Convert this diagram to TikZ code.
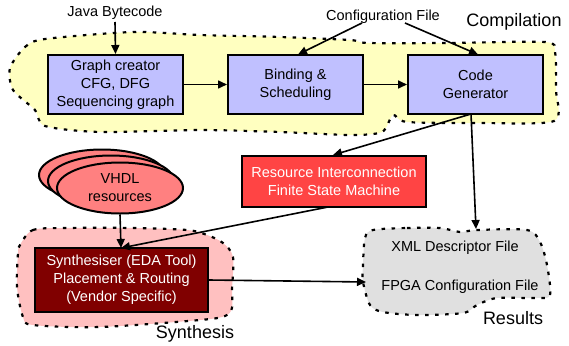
\documentclass[tikz,border=0pt]{standalone}
\usepackage{fontspec}
\setmainfont{Liberation Sans}
\usetikzlibrary{shapes.geometric,arrows.meta}
\definecolor{boxblue}{HTML}{C0C0FF}
\definecolor{yellowfill}{HTML}{FFFFC0}
\definecolor{pinkfill}{HTML}{FFC0C0}
\definecolor{grayfill}{HTML}{E0E0E0}
\definecolor{rired}{HTML}{FF4444}
\definecolor{darkred}{HTML}{800000}
\definecolor{salmon}{HTML}{FF8080}
\begin{document}
\begin{tikzpicture}[x=1pt,y=-1pt,
  every node/.style={font=\fontsize{14.5}{18}\selectfont},
  box/.style={draw=black, line width=2pt, fill=boxblue, align=center,
    minimum width=135pt, minimum height=59pt, inner sep=0pt},
  redbox/.style={draw=black, line width=2pt, align=center, text=white, inner sep=0pt},
  vhdl/.style={ellipse, draw=black, line width=2pt, fill=salmon,
    minimum width=126pt, minimum height=51pt, inner sep=0pt},
  arr/.style={-{Triangle[length=9pt,width=8pt]}, line width=1.6pt},
  region/.style={line width=2.2pt, dash pattern=on 3.5pt off 6.5pt},
  biglabel/.style={font=\fontsize{18}{21}\selectfont}
]
\useasboundingbox (0,0) rectangle (569,345);

% regions
\draw[region, fill=yellowfill] plot[smooth cycle, tension=0.45] coordinates {
  (10,68) (25,47) (45,39) (133,32) (200,35) (280,37) (350,40) (368,43)
  (450,43) (545,42) (555,52) (556,90) (554,121) (480,123) (407,122)
  (393,115) (382,132) (350,135) (280,132) (200,130) (100,132) (45,126)
  (35,110) (13,90)};
\draw[region, fill=pinkfill] plot[smooth cycle, tension=0.5] coordinates {
  (20,245) (33,230) (67,228) (133,228) (187,230) (207,235) (223,243)
  (233,257) (232,290) (232,308) (225,316) (200,320) (100,327) (33,325)
  (23,317) (17,287) (18,253)};
\draw[region, fill=grayfill] plot[smooth cycle, tension=0.5] coordinates {
  (373,230) (407,228) (440,228) (460,232) (477,230) (527,230) (540,242)
  (547,265) (550,295) (537,298) (497,298) (477,305) (463,313) (417,315)
  (383,312) (370,305) (363,282) (363,265) (365,238)};

% labels
\node[biglabel] (comp) at (514,22) {Compilation};
\node[biglabel] (synl) at (195,334) {Synthesis};
\node[biglabel] (resl) at (513,318) {Results};

% top texts
\node (java) at (115,13) {Java Bytecode};
\node (conf) at (383,17) {Configuration File};

% boxes
\node[box] (gc) at (115.5,84.5) {Graph creator\\CFG, DFG\\Sequencing graph};
\node[box] (bs) at (295.5,84.5) {Binding \&\\Scheduling};
\node[box] (cg) at (475.5,84.5) {Code\\Generator};

\node[redbox, fill=rired, minimum width=184pt, minimum height=51pt] (ri) at (334,181.5)
  {Resource Interconnection\\Finite State Machine};

\node[vhdl] (v3) at (102,175) {};
\node[vhdl] (v2) at (111,181) {};
\node[vhdl, align=center] (v1) at (120,188) {VHDL\\resources};

\node[redbox, fill=darkred, minimum width=173pt, minimum height=64pt] (syn) at (121.5,280)
  {Synthesiser (EDA Tool)\\Placement \& Routing\\(Vendor Specific)};

\node (xml) at (455,248) {XML Descriptor File};
\node (fpga) at (460,287) {FPGA Configuration File};

% coordinates for connector ends
\coordinate (javab) at (115,22);
\coordinate (confl) at (362,23);
\coordinate (confr) at (405,23);
\coordinate (cgout) at (471,114);
\coordinate (ritop) at (333,155);
\coordinate (ribot) at (328,207);
\coordinate (syntop) at (121,248);
\coordinate (rescloudtop) at (476,229);
\coordinate (rescloudleft) at (366,282);

% connectors
\draw[arr] (javab) -- (gc.north);
\draw[arr] (confl) -- (298,54.5);
\draw[arr] (confr) -- (478,54.5);
\draw[arr] (gc.east) -- (bs.west);
\draw[arr] (bs.east) -- (cg.west);
\draw[arr] (cgout) -- (rescloudtop);
\draw[arr] (cgout) -- (ritop);
\draw[arr] (ribot) -- (syntop);
\draw[arr] (v1.south) -- (syntop);
\draw[arr] (syn.east) -- (rescloudleft);
\end{tikzpicture}
\end{document}
